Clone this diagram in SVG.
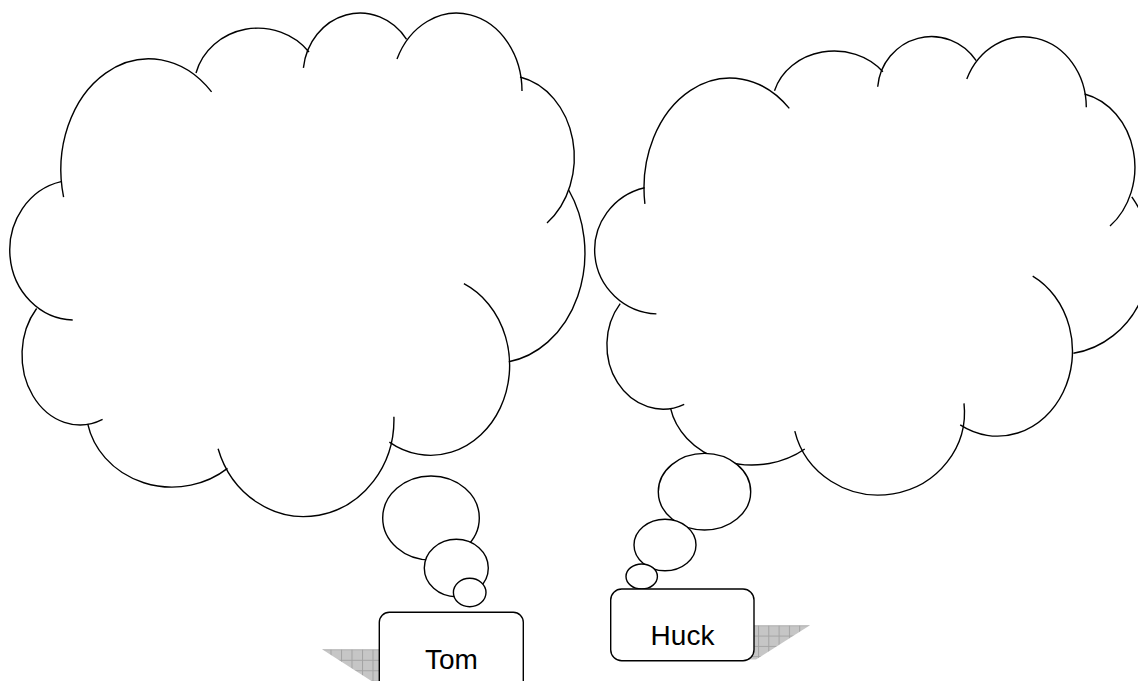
<svg xmlns="http://www.w3.org/2000/svg" width="1138" height="681" viewBox="0 0 1138 681">
<style>
.ln{fill:none;stroke:#000;stroke-width:1.4;stroke-linecap:butt}
.bub{fill:#fff;stroke:#000;stroke-width:1.4}
.box{fill:#fff;stroke:#000;stroke-width:1.4}
.lbl{font-family:"Liberation Sans",Arial,sans-serif;font-size:28px;fill:#000;text-anchor:middle}
</style>
<defs>
<pattern id="hatchT" x="341" y="649.3" width="10.5" height="10.5" patternUnits="userSpaceOnUse">
<rect width="10.5" height="10.5" fill="#c6c6c6"/>
<path d="M0 0.5H10.5M0.5 0V10.5" stroke="#a3a3a3" stroke-width="1"/>
</pattern>
<pattern id="hatchH" x="758" y="625.3" width="10.3" height="10.3" patternUnits="userSpaceOnUse">
<rect width="10.3" height="10.3" fill="#c6c6c6"/>
<path d="M0 0.5H10.3M0.5 0V10.3" stroke="#a3a3a3" stroke-width="1"/>
</pattern>
</defs>
<rect width="1138" height="681" fill="#fff"/>
<g id="cloud-tom">
<path class="ln" d="M63.6 197.1A88 111 0 0 1 211.6 91.9"/>
<path class="ln" d="M196 73A64 60 0 0 1 309 52"/>
<path class="ln" d="M303.4 67.9A57 62 0 0 1 406.6 39.3"/>
<path class="ln" d="M397 59A65.4 78 0 0 1 522 91"/>
<path class="ln" d="M520 77A68 82 0 0 1 547 223"/>
<path class="ln" d="M568.7 190A90 110 0 0 1 508.8 361.7"/>
<path class="ln" d="M463.9 283.7A79 90 0 1 1 389.4 442.1"/>
<path class="ln" d="M393.9 416.7A90 97 0 0 1 218.1 448.7"/>
<path class="ln" d="M227.5 468.4A86 79 0 0 1 87.7 423.9"/>
<path class="ln" d="M36.6 308.5A58 70 0 0 0 102.6 419.4"/>
<path class="ln" d="M61.1 181.6A65 70 0 0 0 72.7 320"/>
</g>
<g id="cloud-huck">
<path class="ln" d="M644.9 203.8A86 110 0 0 1 789.3 108.4"/>
<path class="ln" d="M774.5 90.7A62.2 55 0 0 1 882.9 71.7"/>
<path class="ln" d="M877.7 86.7A54 55 0 0 1 976.2 60.7"/>
<path class="ln" d="M966.8 79A62.4 70.6 0 0 1 1086.3 107.3"/>
<path class="ln" d="M1084.6 94A65 75 0 0 1 1110 226.1"/>
<path class="ln" d="M1131.8 196.8A90 98 0 0 1 1073.4 353.3"/>
<path class="ln" d="M1032.7 276.1A75 85 0 1 1 960.2 424.9"/>
<path class="ln" d="M964 403.3A86 83 0 0 1 794.8 431.2"/>
<path class="ln" d="M804.8 449A83 70 0 0 1 670.5 408.2"/>
<path class="ln" d="M620.2 303.7A56 64 0 0 0 684.2 404.3"/>
<path class="ln" d="M644.7 187.7A65 64 0 0 0 656.4 313.9"/>
</g>
<g id="connectors">
<ellipse class="bub" cx="431" cy="518" rx="48.3" ry="42"/>
<ellipse class="bub" cx="456.3" cy="568" rx="32" ry="28.7"/>
<ellipse class="bub" cx="469.7" cy="592.5" rx="16.3" ry="14.2"/>
<ellipse class="bub" cx="704.5" cy="491.7" rx="46.2" ry="38.3"/>
<ellipse class="bub" cx="665" cy="545" rx="31" ry="25.7"/>
<ellipse class="bub" cx="641.7" cy="576.5" rx="15.7" ry="12.5"/>
</g>
<g id="node-tom">
<polygon fill="url(#hatchT)" points="322,649.3 450,649.3 450,690 385.5,690"/>
<rect class="box" x="379.3" y="612.3" width="144" height="90" rx="10"/>
<text class="lbl" x="451.5" y="669">Tom</text>
</g>
<g id="node-huck">
<polygon fill="url(#hatchH)" points="700,625.3 810,625.3 756,659.5 700,659.5"/>
<rect class="box" x="610.7" y="589" width="143.3" height="71.7" rx="11"/>
<text class="lbl" x="682.5" y="645">Huck</text>
</g>
</svg>
